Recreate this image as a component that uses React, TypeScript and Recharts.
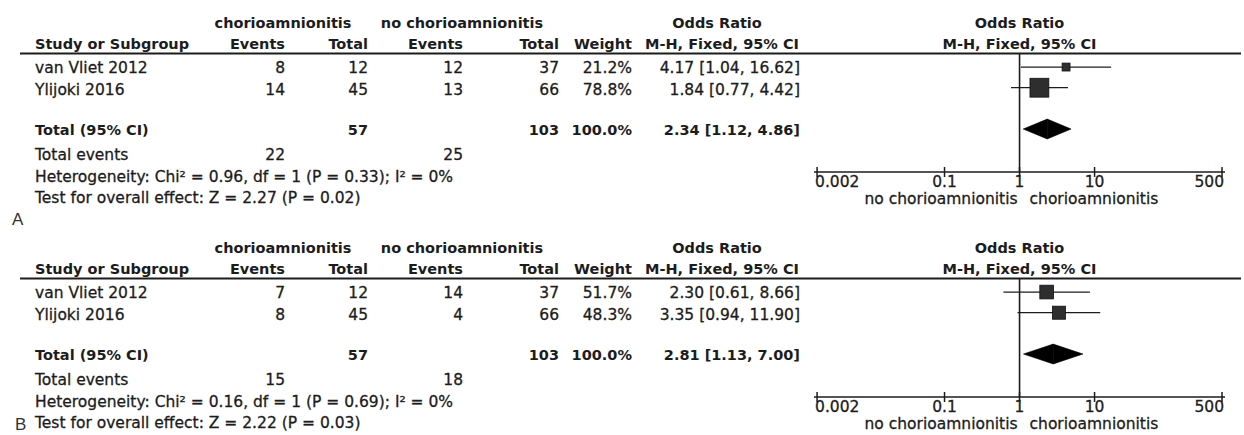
import { ComposedChart, XAxis, YAxis, Scatter, ReferenceLine, ReferenceArea } from "recharts";

// studies shared by both panels
const STUDIES = ["van Vliet 2012", "Ylijoki 2016"];
const OR_TICKS = [0.002, 0.1, 1, 10, 500];
const FAVOURS_LEFT = "no chorioamnionitis";
const FAVOURS_RIGHT = "chorioamnionitis";

// panel A
const A_CHORIO_EVENTS = [8, 14];
const A_CHORIO_TOTAL = [12, 45];
const A_NO_EVENTS = [12, 13];
const A_NO_TOTAL = [37, 66];
const A_WEIGHT = [21.2, 78.8];
const A_OR = [4.17, 1.84];
const A_LOW = [1.04, 0.77];
const A_HIGH = [16.62, 4.42];
const A_POOLED = [2.34, 1.12, 4.86]; // OR, low, high
const A_SUMS = [57, 103, 22, 25]; // chorio total, no total, chorio events, no events
const A_HETEROGENEITY = "Heterogeneity: Chi² = 0.96, df = 1 (P = 0.33); I² = 0%";
const A_OVERALL = "Test for overall effect: Z = 2.27 (P = 0.02)";

// panel B
const B_CHORIO_EVENTS = [7, 8];
const B_CHORIO_TOTAL = [12, 45];
const B_NO_EVENTS = [14, 4];
const B_NO_TOTAL = [37, 66];
const B_WEIGHT = [51.7, 48.3];
const B_OR = [2.3, 3.35];
const B_LOW = [0.61, 0.94];
const B_HIGH = [8.66, 11.9];
const B_POOLED = [2.81, 1.13, 7.0];
const B_SUMS = [57, 103, 15, 18];
const B_HETEROGENEITY = "Heterogeneity: Chi² = 0.16, df = 1 (P = 0.69); I² = 0%";
const B_OVERALL = "Test for overall effect: Z = 2.22 (P = 0.03)";

const W = 1244;
const PANEL_H = 225;
const INK = "#1c1c1c";
const FONT = "'DejaVu Sans', sans-serif";
const REG = 15.5;
const BOLD = 14.5;
const TOTAL_ROW = 4;

const PANELS = [
  { top: 0, events: A_CHORIO_EVENTS, total: A_CHORIO_TOTAL, noEvents: A_NO_EVENTS, noTotal: A_NO_TOTAL, weight: A_WEIGHT, or: A_OR, lo: A_LOW, hi: A_HIGH, pooled: A_POOLED, sums: A_SUMS, het: A_HETEROGENEITY, overall: A_OVERALL },
  { top: 225, events: B_CHORIO_EVENTS, total: B_CHORIO_TOTAL, noEvents: B_NO_EVENTS, noTotal: B_NO_TOTAL, weight: B_WEIGHT, or: B_OR, lo: B_LOW, hi: B_HIGH, pooled: B_POOLED, sums: B_SUMS, het: B_HETEROGENEITY, overall: B_OVERALL },
];

const ci = (v: number[]) => `${v[0].toFixed(2)} [${v[1].toFixed(2)}, ${v[2].toFixed(2)}]`;

// regular text is a touch heavier in the original
const regText = { fontFamily: FONT, fontSize: REG, fill: INK, stroke: INK, strokeWidth: 0.3 };

function OrTick(props: any) {
  const { x, y, payload, index } = props;
  const last = OR_TICKS.length - 1;
  const anchor = index === 0 ? "start" : index === last ? "end" : "middle";
  const dx = index === 0 ? -2 : index === last ? 2 : 0;
  return (
    <g>
      <line x1={x} x2={x} y1={y - 5} y2={y + 5} stroke={INK} strokeWidth={1.5} />
      <text x={x + dx} y={y + 15} textAnchor={anchor} {...regText}>
        {payload.value}
      </text>
      {payload.value === 1 && (
        <>
          <text x={x - 2} y={y + 32} textAnchor="end" {...regText}>{FAVOURS_LEFT}</text>
          <text x={x + 10} y={y + 32} textAnchor="start" {...regText}>{FAVOURS_RIGHT}</text>
        </>
      )}
    </g>
  );
}

function WeightSquare(props: any) {
  const { cx, cy, payload } = props;
  const s = 3.9 + 0.19 * payload.w;
  return <rect x={cx - s / 2} y={cy - s / 2} width={s} height={s} fill="#2e2e2e" stroke="#111" strokeWidth={0.8} />;
}

const leftHalf = (p: any) => (
  <polygon points={`${p.x},${p.y + p.height / 2} ${p.x + p.width},${p.y} ${p.x + p.width},${p.y + p.height}`} fill="#000" stroke="#000" strokeWidth={0.6} />
);
const rightHalf = (p: any) => (
  <polygon points={`${p.x},${p.y} ${p.x + p.width},${p.y + p.height / 2} ${p.x},${p.y + p.height}`} fill="#000" stroke="#000" strokeWidth={0.6} />
);

function T({ x, y, a = "end", b = false, children }: any) {
  if (b) {
    return (
      <text x={x} y={y} textAnchor={a} fontFamily={FONT} fontSize={BOLD} fontWeight="bold" fill={INK}>
        {children}
      </text>
    );
  }
  return (
    <text x={x} y={y} textAnchor={a} {...regText}>
      {children}
    </text>
  );
}

function ForestPanel({ p }: { p: any }) {
  const rows = STUDIES.map((name, i) => ({ name, or: p.or[i], lo: p.lo[i], hi: p.hi[i], w: p.weight[i], row: i + 1 }));
  return (
    <div style={{ position: "absolute", left: 0, top: p.top, width: W, height: PANEL_H }}>
      <ComposedChart width={W} height={PANEL_H} margin={{ top: 53, right: 19, bottom: 13, left: 814 }}>
        <XAxis
          type="number"
          dataKey="or"
          scale="log"
          domain={[0.00182, 548]}
          allowDataOverflow
          ticks={OR_TICKS}
          interval={0}
          height={40}
          tickSize={0}
          tickMargin={0}
          tickLine={false}
          axisLine={{ stroke: INK, strokeWidth: 1.5 }}
          tick={(t: any) => <OrTick {...t} />}
        />
        <YAxis type="number" dataKey="row" domain={[0.32, 6.08]} reversed hide allowDataOverflow />
        <ReferenceLine x={1} stroke={INK} strokeWidth={1.6} />
        {rows.map((r) => (
          <ReferenceLine key={r.name} segment={[{ x: r.lo, y: r.row }, { x: r.hi, y: r.row }]} stroke={INK} strokeWidth={1.3} />
        ))}
        <Scatter data={rows} dataKey="row" isAnimationActive={false} shape={WeightSquare} />
        <ReferenceArea x1={p.pooled[1]} x2={p.pooled[0]} y1={TOTAL_ROW - 0.48} y2={TOTAL_ROW + 0.48} shape={leftHalf} />
        <ReferenceArea x1={p.pooled[0]} x2={p.pooled[2]} y1={TOTAL_ROW - 0.48} y2={TOTAL_ROW + 0.48} shape={rightHalf} />
      </ComposedChart>
      <svg width={W} height={PANEL_H} style={{ position: "absolute", left: 0, top: 0, pointerEvents: "none" }}>
        <T x={283} y={28} a="middle" b>chorioamnionitis</T>
        <T x={462} y={28} a="middle" b>no chorioamnionitis</T>
        <T x={717} y={28} a="middle" b>Odds Ratio</T>
        <T x={1019.5} y={28} a="middle" b>Odds Ratio</T>
        <T x={35} y={49} a="start" b>Study or Subgroup</T>
        <T x={285} y={49} b>Events</T>
        <T x={368} y={49} b>Total</T>
        <T x={463} y={49} b>Events</T>
        <T x={559} y={49} b>Total</T>
        <T x={632} y={49} b>Weight</T>
        <T x={722} y={49} a="middle" b>M-H, Fixed, 95% CI</T>
        <T x={1019.5} y={49} a="middle" b>M-H, Fixed, 95% CI</T>
        <line x1={20} x2={1241} y1={53.5} y2={53.5} stroke={INK} strokeWidth={2} />
        {rows.map((r, i) => (
          <g key={r.name}>
            <T x={35} y={73 + i * 22} a="start">{r.name}</T>
            <T x={285} y={73 + i * 22}>{p.events[i]}</T>
            <T x={368} y={73 + i * 22}>{p.total[i]}</T>
            <T x={463} y={73 + i * 22}>{p.noEvents[i]}</T>
            <T x={559} y={73 + i * 22}>{p.noTotal[i]}</T>
            <T x={632} y={73 + i * 22}>{p.weight[i].toFixed(1)}%</T>
            <T x={800} y={73 + i * 22}>{ci([p.or[i], p.lo[i], p.hi[i]])}</T>
          </g>
        ))}
        <T x={35} y={135} a="start" b>Total (95% CI)</T>
        <T x={368} y={135} b>{p.sums[0]}</T>
        <T x={559} y={135} b>{p.sums[1]}</T>
        <T x={632} y={135} b>100.0%</T>
        <T x={800} y={135} b>{ci(p.pooled)}</T>
        <T x={35} y={160} a="start">Total events</T>
        <T x={285} y={160}>{p.sums[2]}</T>
        <T x={463} y={160}>{p.sums[3]}</T>
        <T x={35} y={182} a="start">{p.het}</T>
        <T x={35} y={203} a="start">{p.overall}</T>
      </svg>
    </div>
  );
}

export default function App() {
  return (
    <div style={{ position: "absolute", left: 0, top: 0, width: W, height: 435, overflow: "hidden", background: "#fff" }}>
      {PANELS.map((p, i) => (
        <ForestPanel key={i} p={p} />
      ))}
      <svg width={W} height={435} style={{ position: "absolute", left: 0, top: 0, pointerEvents: "none" }}>
        <text x={12} y={225} fontFamily="'Liberation Sans', Arial, sans-serif" fontSize={17} fill="#333">A</text>
        <text x={15} y={430} fontFamily="'Liberation Sans', Arial, sans-serif" fontSize={17} fill="#333">B</text>
      </svg>
    </div>
  );
}
